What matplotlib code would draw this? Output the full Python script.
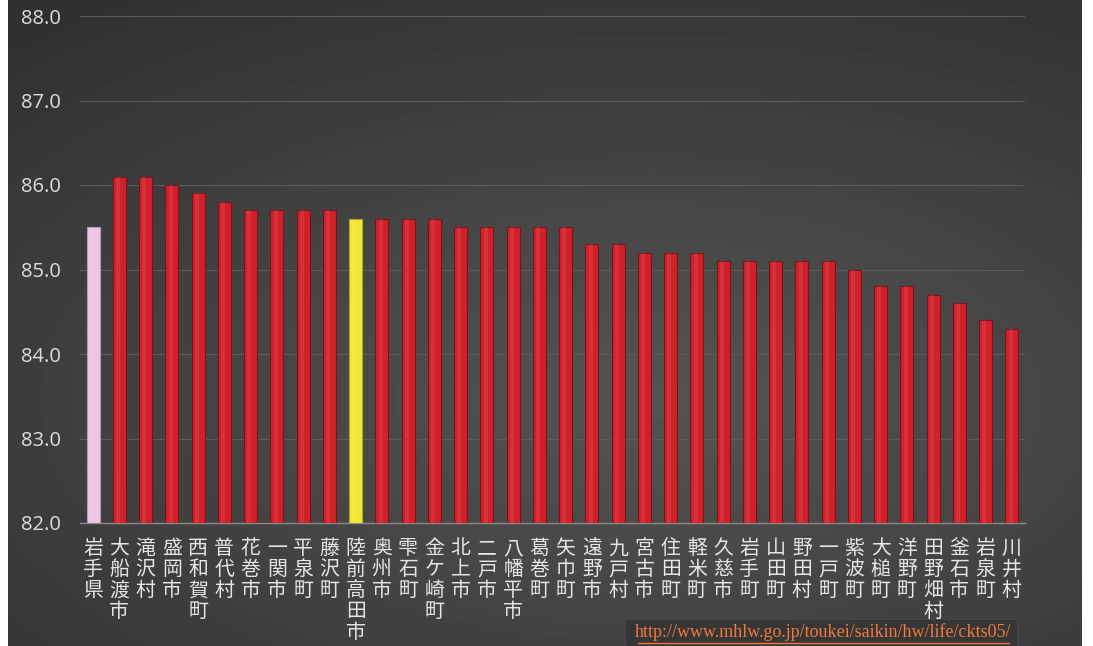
import numpy as np
import matplotlib.pyplot as plt
from matplotlib.patches import Rectangle

# 平均寿命（女性）岩手県市町村別
names = ["岩手県", "大船渡市", "滝沢村", "盛岡市", "西和賀町", "普代村", "花巻市", "一関市",
         "平泉町", "藤沢町", "陸前高田市", "奥州市", "雫石町", "金ケ崎町", "北上市", "二戸市",
         "八幡平市", "葛巻町", "矢巾町", "遠野市", "九戸村", "宮古市", "住田町", "軽米町",
         "久慈市", "岩手町", "山田町", "野田村", "一戸町", "紫波町", "大槌町", "洋野町",
         "田野畑村", "釜石市", "岩泉町", "川井村"]
values = [85.5, 86.1, 86.1, 86.0, 85.9, 85.8, 85.7, 85.7,
          85.7, 85.7, 85.6, 85.6, 85.6, 85.6, 85.5, 85.5,
          85.5, 85.5, 85.5, 85.3, 85.3, 85.2, 85.2, 85.2,
          85.1, 85.1, 85.1, 85.1, 85.1, 85.0, 84.8, 84.8,
          84.7, 84.6, 84.4, 84.3]
yticks = [82.0, 83.0, 84.0, 85.0, 86.0, 87.0, 88.0]
source = "http://www.mhlw.go.jp/toukei/saikin/hw/life/ckts05/"

W, H = 1093, 646
fig = plt.figure(figsize=(W / 100, H / 100), dpi=100)
fig.patch.set_facecolor("white")

# dark gradient background
bg = fig.add_axes([8 / W, 0, (1082 - 8) / W, 1], zorder=-2)
yy, xx = np.mgrid[0:1:200j, 0:1:300j]
g = 1 - np.hypot((xx - 0.6) * 1.1, (yy - 0.62) * 1.3)
g = np.clip(g, 0, 1)
shade = 0.19 + 0.14 * g
bg.imshow(shade, cmap="gray", vmin=0, vmax=1, aspect="auto", extent=[0, 1, 0, 1])
bg.set_axis_off()

ax = fig.add_axes([80 / W, 123 / H, (1025 - 80) / W, 507 / H])
ax.patch.set_alpha(0)
x = np.arange(len(names))
colors = ["#d2202a"] * len(names)
colors[0] = "#ecc6e2"
colors[10] = "#f2e833"
edge = ["#7a1418"] * len(names)
edge[0] = "#b89ab0"
edge[10] = "#b0a820"
ax.bar(x, [v - 82 for v in values], bottom=82, width=0.5, color=colors,
       edgecolor=edge, linewidth=0.8, zorder=3)
# highlight stripe on bars
ax.bar(x - 0.05, [v - 82 for v in values], bottom=82, width=0.15,
       color="white", alpha=0.08, linewidth=0, zorder=4)

ax.set_xlim(-0.5, len(names) - 0.5)
ax.set_ylim(82, 88)
ax.set_yticks(yticks)
ax.set_yticklabels([f"{t:.1f}" for t in yticks], color="#dedede", fontsize=14.5,
                   family=["Open Sans", "DejaVu Sans"])
ax.grid(axis="y", color="#5c5c5c", linewidth=0.8, zorder=0)
ax.set_axisbelow(True)
ax.set_xticks(x)
ax.set_xticklabels(["\n".join(n) for n in names], color="#e6e6e6", fontsize=14.3,
                   family=["Noto Sans CJK JP", "DejaVu Sans"], linespacing=1.0,
                   va="top")
ax.tick_params(axis="x", length=0, pad=11)
ax.tick_params(axis="y", length=0, pad=14)
for s in ["top", "right", "left"]:
    ax.spines[s].set_visible(False)
ax.spines["bottom"].set_color("#8a8a8a")
ax.spines["bottom"].set_linewidth(1.0)

# source box
fig.patches.append(Rectangle((625 / W, 0), (1017 - 625) / W, 27 / H, transform=fig.transFigure,
                             facecolor="#363636", edgecolor="#454545", linewidth=0.8,
                             zorder=-1))
fig.text(823 / W, 5 / H, source, color="#f07a3c", fontsize=13, ha="center", va="bottom",
         family=["Liberation Serif", "DejaVu Serif"])
fig.add_artist(plt.Line2D([638 / W, 1009 / W], [3.5 / H, 3.5 / H], color="#f07a3c", linewidth=1))

fig.savefig("out.png", dpi=100)
